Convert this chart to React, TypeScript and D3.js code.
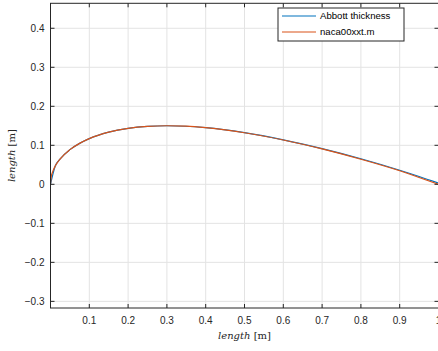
import React, { useEffect, useRef } from 'react';
import * as d3 from 'd3';

// Abbott table stations (NACA 00xx, 30% thickness)
const abbottX = [0, 0.0125, 0.025, 0.05, 0.075, 0.1, 0.15, 0.2, 0.25, 0.3, 0.4, 0.5, 0.6, 0.7, 0.8, 0.9, 0.95, 1.0];
const abbottY = [0, 0.0474, 0.0654, 0.0889, 0.105, 0.1171, 0.1336, 0.1434, 0.1485, 0.1501, 0.1451, 0.1324, 0.1141, 0.0916, 0.0656, 0.0362, 0.0202, 0.0032];

// naca00xxt.m output
const nacaX = [0, 0.002, 0.005, 0.0125, 0.025, 0.05, 0.075, 0.1, 0.15, 0.2, 0.25, 0.3, 0.35, 0.4, 0.45, 0.5, 0.6, 0.7, 0.8, 0.9, 0.95, 1.0];
const nacaY = [0, 0.0195, 0.0305, 0.0474, 0.0654, 0.0889, 0.105, 0.1171, 0.1336, 0.1434, 0.1485, 0.1501, 0.149, 0.1451, 0.1395, 0.1322, 0.1137, 0.0908, 0.0643, 0.0347, 0.0176, 0];

const xTicks = [0.1, 0.2, 0.3, 0.4, 0.5, 0.6, 0.7, 0.8, 0.9, 1];
const yTicks = [-0.3, -0.2, -0.1, 0, 0.1, 0.2, 0.3, 0.4];
const xDomain = [0, 1];
const yDomain = [-0.317, 0.464];

const seriesNames = ['Abbott thickness', 'naca00xxt.m'];
const seriesColours = ['#0072BD', '#D95319'];

const W = 438;
const H = 351;

const App: React.FC = () => {
  const svgRef = useRef<SVGSVGElement>(null);

  useEffect(() => {
    const svg = d3.select(svgRef.current);
    svg.selectAll('*').remove();

    const left = 50.5, right = 438.5, top = 3.3, bottom = 308;
    const x = d3.scaleLinear().domain(xDomain).range([left, right]);
    const y = d3.scaleLinear().domain(yDomain).range([bottom, top]);
    const font = 'Liberation Sans, Arial, Helvetica, sans-serif';
    const axisColour = '#262626';

    // grid
    const grid = svg.append('g');
    grid.selectAll('.gx').data(xTicks).enter().append('line')
      .attr('x1', d => x(d)).attr('x2', d => x(d))
      .attr('y1', top).attr('y2', bottom)
      .attr('stroke', '#e3e3e3').attr('stroke-width', 1);
    grid.selectAll('.gy').data(yTicks).enter().append('line')
      .attr('x1', left).attr('x2', right)
      .attr('y1', d => y(d)).attr('y2', d => y(d))
      .attr('stroke', '#e3e3e3').attr('stroke-width', 1);

    // curves
    const series = [
      { xs: abbottX, ys: abbottY },
      { xs: nacaX, ys: nacaY },
    ];
    const line = d3.line<[number, number]>()
      .x(d => x(d[0]))
      .y(d => y(d[1]))
      .curve(d3.curveMonotoneX);
    series.forEach((s, i) => {
      const pts: [number, number][] = s.xs.map((v, j) => [v, s.ys[j]]);
      svg.append('path')
        .attr('d', line(pts) as string)
        .attr('fill', 'none')
        .attr('stroke', seriesColours[i])
        .attr('stroke-width', 1.2);
    });

    // box
    svg.append('rect')
      .attr('x', left).attr('y', top)
      .attr('width', right - left).attr('height', bottom - top)
      .attr('fill', 'none').attr('stroke', axisColour).attr('stroke-width', 1);

    // ticks (inside, all four sides)
    const tl = 4;
    xTicks.forEach(t => {
      svg.append('line').attr('x1', x(t)).attr('x2', x(t)).attr('y1', bottom).attr('y2', bottom - tl).attr('stroke', axisColour);
      svg.append('line').attr('x1', x(t)).attr('x2', x(t)).attr('y1', top).attr('y2', top + tl).attr('stroke', axisColour);
      svg.append('text')
        .attr('x', x(t)).attr('y', bottom + 16)
        .attr('text-anchor', 'middle')
        .attr('font-family', font).attr('font-size', 10)
        .attr('fill', axisColour)
        .text(d3.format('')(t));
    });
    yTicks.forEach(t => {
      svg.append('line').attr('x1', left).attr('x2', left + tl).attr('y1', y(t)).attr('y2', y(t)).attr('stroke', axisColour);
      svg.append('line').attr('x1', right).attr('x2', right - tl).attr('y1', y(t)).attr('y2', y(t)).attr('stroke', axisColour);
      svg.append('text')
        .attr('x', left - 6).attr('y', y(t)).attr('dy', '0.35em')
        .attr('text-anchor', 'end')
        .attr('font-family', font).attr('font-size', 10)
        .attr('fill', axisColour)
        .text(t === 0 ? '0' : d3.format('.1f')(t));
    });

    // axis labels
    const serif = 'DejaVu Serif, Liberation Serif, serif';
    const xl = svg.append('text')
      .attr('x', (left + right) / 2).attr('y', 339)
      .attr('text-anchor', 'middle')
      .attr('font-family', serif).attr('font-size', 10)
      .attr('fill', axisColour);
    xl.append('tspan').attr('font-style', 'italic').text('length');
    xl.append('tspan').text(' [m]');

    const yl = svg.append('text')
      .attr('transform', `translate(15,${(top + bottom) / 2}) rotate(-90)`)
      .attr('text-anchor', 'middle')
      .attr('font-family', serif).attr('font-size', 10)
      .attr('fill', axisColour);
    yl.append('tspan').attr('font-style', 'italic').text('length');
    yl.append('tspan').text(' [m]');

    // legend
    const lg = svg.append('g');
    lg.append('rect')
      .attr('x', 278).attr('y', 8).attr('width', 126).attr('height', 33)
      .attr('fill', 'white').attr('stroke', axisColour).attr('stroke-width', 1);
    seriesNames.forEach((name, i) => {
      const ly = 16 + i * 16;
      lg.append('line')
        .attr('x1', 282).attr('x2', 316).attr('y1', ly).attr('y2', ly)
        .attr('stroke', seriesColours[i]).attr('stroke-width', 1.2);
      lg.append('text')
        .attr('x', 320).attr('y', ly).attr('dy', '0.35em')
        .attr('font-family', font).attr('font-size', 9.6)
        .attr('fill', '#000')
        .text(name);
    });
  }, []);

  return (
    <svg
      ref={svgRef}
      width={W}
      height={H}
      style={{ position: 'absolute', left: 0, top: 0, background: 'white' }}
    />
  );
};

export default App;
